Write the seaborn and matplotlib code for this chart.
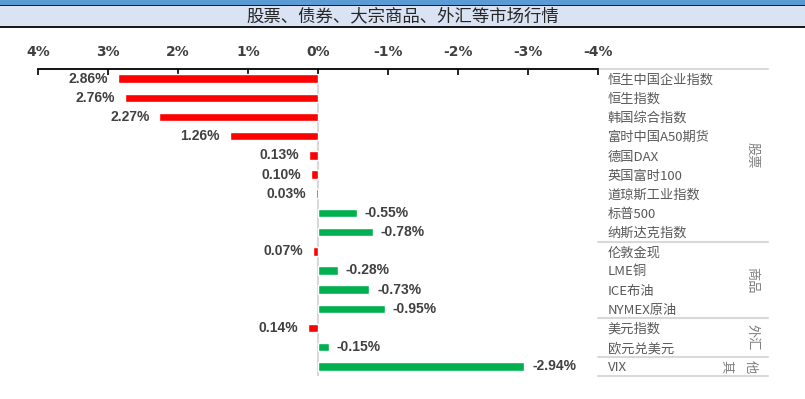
import pandas as pd
import seaborn as sns
import matplotlib.pyplot as plt
from matplotlib.patches import Rectangle

# market moves, % (positive drawn to the left)
names = ['恒生中国企业指数', '恒生指数', '韩国综合指数', '富时中国A50期货', '德国DAX',
         '英国富时100', '道琼斯工业指数', '标普500', '纳斯达克指数',
         '伦敦金现', 'LME铜', 'ICE布油', 'NYMEX原油',
         '美元指数', '欧元兑美元', 'VIX']
values = [2.86, 2.76, 2.27, 1.26, 0.13, 0.10, 0.03, -0.55, -0.78,
          0.07, -0.28, -0.73, -0.95,
          0.14, -0.15, -2.94]
groups = ['股票', '商品', '外汇', '其他']
group_sizes = [9, 4, 2, 1]
ticks = [4, 3, 2, 1, 0, -1, -2, -3, -4]
title = '股票、债券、大宗商品、外汇等市场行情'

df = pd.DataFrame({'name': names, 'value': values})
df['dir'] = ['up' if v >= 0 else 'down' for v in df['value']]

sns.set_style("white")
plt.rcParams['font.family'] = ['Noto Sans CJK SC', 'DejaVu Sans']

W, H = 805, 399
fig = plt.figure(figsize=(W / 100, H / 100), dpi=100)

# header band
def band(top, bottom, color):
    fig.add_artist(Rectangle((0, 1 - bottom / H), 1, (bottom - top) / H,
                             transform=fig.transFigure, color=color, lw=0))

band(0, 4.5, '#5b9bd5')
band(4.5, 6.5, '#1a1a1a')
band(6.5, 26, '#dae3f3')
band(26, 28, '#1a1a1a')
fig.text(0.5, 1 - 16.5 / H, title, ha='center', va='center', fontsize=12.5,
         color='#262626')

ax = fig.add_axes([38 / W, 1 - 376 / H, 560 / W, 307 / H])
ax.axvline(0, color='#d9d9d9', lw=1.5, zorder=0)
sns.barplot(data=df, y='name', x='value', hue='dir',
            palette={'up': '#ff0000', 'down': '#00b050'}, saturation=1,
            dodge=False, width=0.44, legend=False, orient='h', ax=ax, zorder=2)

ax.set_xlim(4, -4)
ax.set_ylim(len(names) - 0.5, -0.5)

ax.xaxis.tick_top()
ax.set_xticks(ticks)
ax.set_xticklabels([f'{t}%' for t in ticks], fontsize=10, color='#404040',
                   family=['Liberation Sans Narrow', 'DejaVu Sans'], fontweight='bold')
ax.tick_params(axis='x', direction='in', length=4, width=1.2, color='black', pad=7)

ax.yaxis.tick_right()
ax.tick_params(axis='y', length=0, pad=7, labelsize=9.5, labelcolor='#595959')
ax.set_xlabel('')
ax.set_ylabel('')

for s in ['left', 'right', 'bottom']:
    ax.spines[s].set_visible(False)
ax.spines['top'].set_color('black')
ax.spines['top'].set_linewidth(1.3)

# value labels (x axis is reversed, so positive bars end on the left)
for i, v in enumerate(values):
    off = -7 if v >= 0 else 6
    ax.annotate(f'{v:.2f}%', (v, i), xytext=(off, 0), textcoords='offset points',
                ha='right' if v >= 0 else 'left', va='center',
                fontsize=10, fontweight='bold', color='#404040',
                family=['Liberation Sans', 'DejaVu Sans'])

# group separators and labels on the right
tr = ax.get_yaxis_transform()
x_end = (768 - 38) / 560
start = -0.5
ax.plot([1.0, x_end], [start, start], transform=tr, color='#d9d9d9', lw=1.5, clip_on=False)
for g, n in zip(groups, group_sizes):
    end = start + n
    ax.plot([1.0, x_end], [end, end], transform=tr, color='#d9d9d9', lw=1.5, clip_on=False)
    mid = (start + end) / 2
    if n > 1:
        ax.text((752 - 38) / 560, mid, g, transform=tr, rotation=-90, ha='center',
                va='center', fontsize=9.5, color='#7f7f7f')
    else:
        ax.text((727 - 38) / 560, mid, g[0], transform=tr, rotation=-90, ha='center',
                va='center', fontsize=9.5, color='#7f7f7f')
        ax.text((750 - 38) / 560, mid, g[1], transform=tr, rotation=-90, ha='center',
                va='center', fontsize=9.5, color='#7f7f7f')
    start = end

fig.savefig('out.png', dpi=100)
